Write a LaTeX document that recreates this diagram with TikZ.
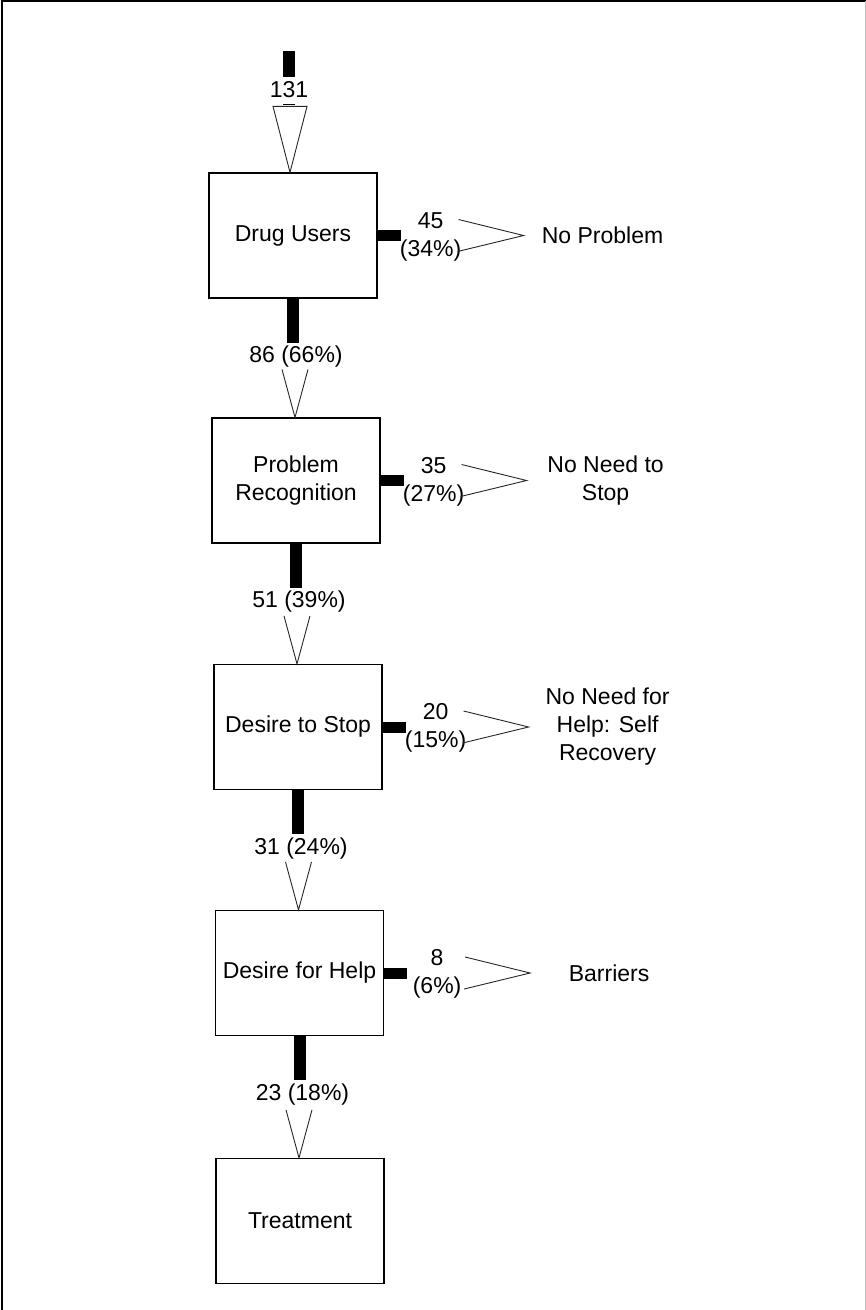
\documentclass[tikz,border=0pt]{standalone}
\usepackage{fontspec}
\setmainfont{Liberation Sans}
\usetikzlibrary{positioning, calc}

\begin{document}
\begin{tikzpicture}[
                x=1pt, y=-1pt,
                stage/.style={draw, line width=1.2pt, minimum width=168pt, minimum height=125pt, inner sep=0pt, align=center, font=\fontsize{23}{28}\selectfont},
                count/.style={align=center, inner sep=1pt, font=\fontsize{23}{28}\selectfont},
                outcome/.style={align=center, font=\fontsize{23}{28}\selectfont},
                funnel/.style={draw=black!85, line width=0.9pt},
            ]
                \useasboundingbox (0,0) rectangle (866,1310);

                % Draw the frame
                \draw[line width=1.5pt] (2,1310) -- (2,1) -- (866,1);
                \draw[black!25] (865,1) -- (865,1310);

                % Draw the stage boxes
                \foreach \name / \x / \y / \txt in {du/293/235.5/Drug Users, pr/296/480.5/{Problem\\Recognition}, ds/298/727/Desire to Stop, dh/299.5/973/Desire for Help, tr/300/1221/Treatment}
                    \node[stage] (\name) at (\x,\y) {\txt};

                % Draw the incoming total
                \coordinate (in) at (289,51);
                \fill ($(in)+(-6,0)$) rectangle ($(in)+(6,54)$);
                \node[count, fill=white, minimum height=27pt] (n-in) at (289,90) {131};
                \draw[funnel] ($(du.north)+(-20,-66)$) -- ($(du.north)+(-3,0)$) -- ($(du.north)+(14,-66)$) -- cycle;

                % Connect every stage with the next one
                \foreach \source / \dest / \txt in {du/pr/86 (66\%), pr/ds/51 (39\%), ds/dh/31 (24\%), dh/tr/23 (18\%)} {
                    \fill ($(\source.south)+(-6,0)$) rectangle ($(\source.south)+(6,44)$);
                    \node[count] (c-\source) at ($(\source.south)+(3,58)$) {\txt};
                    \draw[funnel] ($(\dest.north)+(-14,-48)$) -- ($(\dest.north)+(-1,0)$) -- ($(\dest.north)+(12,-48)$);
                }

                % Draw the drop-outs of every stage
                \foreach \source / \num / \pct / \txt in {du/45/34/No Problem, pr/35/27/{No Need to\\Stop}, ds/20/15/{No Need for\\Help: Self\\Recovery}, dh/8/6/Barriers} {
                    \fill ($(\source.east)+(0,-5.5)$) rectangle ($(\source.east)+(23,5.5)$);
                    \node[count] (s-\source) at ($(\source.east)+(53,1)$) {\num\\(\pct\%)};
                    \draw[funnel] ($(\source.east)+(81,-16)$) -- ($(\source.east)+(146,0)$) -- ($(\source.east)+(80,16)$);
                    \node[outcome] (o-\source) at ($(\source.east)+(225,0)$) {\txt};
                }
            \end{tikzpicture}
\end{document}
